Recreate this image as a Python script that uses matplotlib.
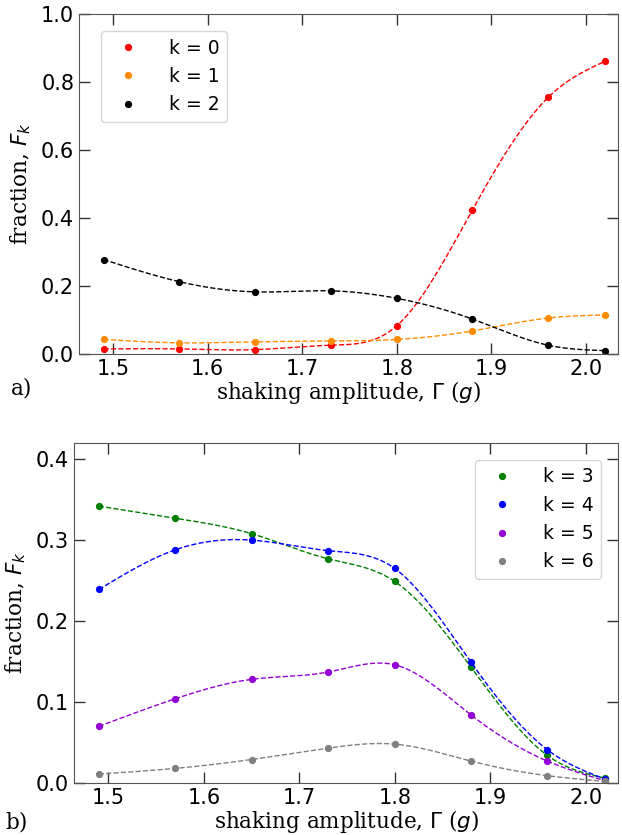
import matplotlib
matplotlib.use("Agg")
import matplotlib.pyplot as plt
import numpy as np

# shaking amplitude values (in g)
gamma = [1.49, 1.57, 1.65, 1.73, 1.80, 1.88, 1.96, 2.02]

# fractions F_k
f0 = [0.015, 0.015, 0.013, 0.026, 0.083, 0.424, 0.755, 0.861]
f1 = [0.043, 0.033, 0.036, 0.038, 0.043, 0.068, 0.106, 0.115]
f2 = [0.278, 0.213, 0.183, 0.186, 0.164, 0.103, 0.026, 0.010]
f3 = [0.342, 0.327, 0.308, 0.277, 0.249, 0.143, 0.034, 0.006]
f4 = [0.239, 0.288, 0.300, 0.287, 0.265, 0.149, 0.041, 0.005]
f5 = [0.070, 0.104, 0.128, 0.137, 0.146, 0.084, 0.027, 0.003]
f6 = [0.011, 0.018, 0.029, 0.043, 0.048, 0.027, 0.009, 0.002]

top_series = [(f0, "red", "k = 0"), (f1, "darkorange", "k = 1"), (f2, "black", "k = 2")]
bot_series = [(f3, "green", "k = 3"), (f4, "blue", "k = 4"),
              (f5, "darkviolet", "k = 5"), (f6, "gray", "k = 6")]


def spline(x, y, n=300):
    # natural cubic spline through the data points
    x = np.asarray(x, float)
    y = np.asarray(y, float)
    m = len(x)
    h = np.diff(x)
    A = np.zeros((m, m))
    b = np.zeros(m)
    A[0, 0] = A[-1, -1] = 1
    for i in range(1, m - 1):
        A[i, i - 1] = h[i - 1]
        A[i, i] = 2 * (h[i - 1] + h[i])
        A[i, i + 1] = h[i]
        b[i] = 3 * ((y[i + 1] - y[i]) / h[i] - (y[i] - y[i - 1]) / h[i - 1])
    c = np.linalg.solve(A, b)
    xs = np.linspace(x[0], x[-1], n)
    idx = np.clip(np.searchsorted(x, xs) - 1, 0, m - 2)
    dx = xs - x[idx]
    hi = h[idx]
    bb = (y[idx + 1] - y[idx]) / hi - hi * (2 * c[idx] + c[idx + 1]) / 3
    dd = (c[idx + 1] - c[idx]) / (3 * hi)
    ys = y[idx] + bb * dx + c[idx] * dx ** 2 + dd * dx ** 3
    return xs, ys


fig = plt.figure(figsize=(6.22, 8.35), dpi=100)
ax1 = fig.add_axes([0.127, 0.576, 0.8666, 0.407])
ax2 = fig.add_axes([0.119, 0.0623, 0.8746, 0.4072])

for ax, series in [(ax1, top_series), (ax2, bot_series)]:
    for vals, col, lab in series:
        xs, ys = spline(gamma, vals)
        ax.plot(xs, ys, "--", color=col, lw=1.0)
        ax.plot(gamma, vals, "o", color=col, ms=4.2, label=lab, linestyle="none")
    ax.set_xlim(1.464, 2.034)
    ax.set_xticks([1.5, 1.6, 1.7, 1.8, 1.9, 2.0])
    ax.tick_params(direction="in", length=8, width=1, labelsize=15,
                   top=True, right=True, color="#333333")
    for sp in ax.spines.values():
        sp.set_color("#555555")
    ax.set_xlabel(r"shaking amplitude, $\Gamma$ ($g$)", family="DejaVu Serif",
                  fontsize=15.5, labelpad=0)
    ax.set_ylabel(r"fraction, $F_k$", family="DejaVu Serif", fontsize=15.5,
                  labelpad=6)

ax1.set_ylim(0, 1.0)
ax1.set_yticks([0.0, 0.2, 0.4, 0.6, 0.8, 1.0])
ax2.set_ylim(0, 0.42)
ax2.set_yticks([0.0, 0.1, 0.2, 0.3, 0.4])

ax1.legend(loc="upper left", fontsize=13.5, handletextpad=1.2,
           borderaxespad=0.9, handlelength=2.0, bbox_to_anchor=(0.01, 1.0))
ax2.legend(loc="upper right", fontsize=13.5, handletextpad=1.2,
           borderaxespad=0.9, handlelength=2.0)

fig.text(0.018, 0.527, "a)", family="DejaVu Serif", fontsize=15.5)
fig.text(0.008, 0.008, "b)", family="DejaVu Serif", fontsize=15.5)

fig.savefig("out.png", dpi=100)
